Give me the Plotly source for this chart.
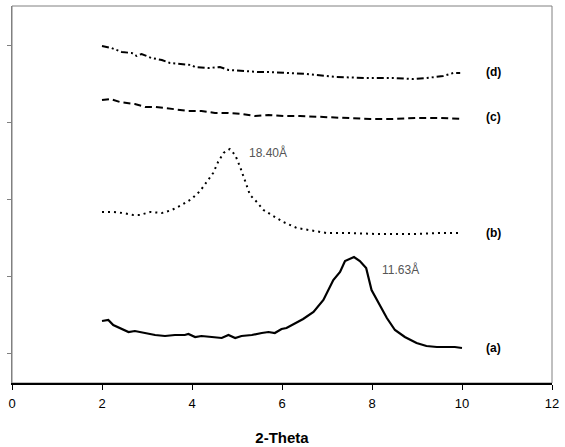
import plotly.graph_objects as go

# 2-Theta values and intensities (arbitrary units)
x_a = [2.0, 2.14, 2.25, 2.4, 2.59, 2.73, 2.96, 3.18, 3.4, 3.62, 3.84, 3.92, 4.07, 4.21, 4.44, 4.66, 4.81, 4.96,
       5.1, 5.33, 5.55, 5.7, 5.84, 5.99, 6.1, 6.29, 6.47, 6.7, 6.92, 7.14, 7.29, 7.4, 7.51, 7.6, 7.73, 7.87,
       7.99, 8.14, 8.33, 8.51, 8.73, 8.99, 9.21, 9.44, 9.66, 9.84, 10.0]
y_a = [32, 33, 28, 25, 21, 22, 20, 18, 17, 18, 18, 19, 16, 17, 16, 15, 18, 15,
       17, 18, 20, 21, 20, 24, 25, 30, 34, 41, 53, 73, 81, 92, 94, 96, 92, 85,
       63, 51, 35, 23, 16, 10, 7, 6, 6, 6, 5]

x_b = [2.0, 2.25, 2.47, 2.7, 2.84, 3.07, 3.33, 3.55, 3.77, 3.99, 4.18, 4.33, 4.47, 4.58, 4.7, 4.84, 4.96,
       5.07, 5.18, 5.29, 5.44, 5.59, 5.77, 6.03, 6.33, 6.7, 6.99, 7.51, 8.1, 8.62, 9.0, 9.5, 10.0]
y_b = [141, 141, 140, 138, 138, 141, 140, 143, 148, 154, 162, 171, 180, 191, 200, 204, 198,
       186, 171, 158, 151, 143, 138, 131, 125, 122, 120, 120, 119, 119, 119, 120, 120]

x_c = [2.0, 2.18, 2.4, 2.55, 2.73, 2.96, 3.18, 3.4, 3.62, 3.92, 4.21, 4.51, 4.81, 5.1, 5.4, 5.7, 6.03,
       6.4, 6.92, 7.44, 7.96, 8.47, 8.99, 9.51, 10.0]
y_c = [253, 254, 251, 250, 249, 246, 246, 245, 244, 242, 242, 240, 240, 239, 237, 238, 237,
       237, 236, 235, 234, 234, 235, 235, 234]

x_d = [2.0, 2.21, 2.44, 2.66, 2.77, 2.88, 3.1, 3.33, 3.51, 3.77, 3.99, 4.07, 4.36, 4.62, 4.81, 5.18, 5.47,
       5.7, 6.03, 6.55, 7.21, 7.88, 8.47, 8.92, 9.21, 9.58, 9.81, 9.96]
y_d = [307, 305, 301, 300, 297, 299, 295, 293, 290, 289, 288, 286, 285, 286, 283, 282, 281,
       281, 280, 279, 276, 275, 275, 274, 275, 277, 280, 280]

curve_labels = ["(a)", "(b)", "(c)", "(d)"]
label_x = 10.71
label_y = [5, 120, 236, 281]

peak_texts = ["18.40Å", "11.63Å"]
peak_x = [5.22, 8.18]
peak_y = [201, 84]

x_ticks = [0, 2, 4, 6, 8, 10, 12]
y_ticks = [0, 77, 154, 231, 308]

fig = go.Figure()
fig.add_trace(go.Scatter(x=x_a, y=y_a, mode="lines", line=dict(color="black", width=2.2)))
fig.add_trace(go.Scatter(x=x_b, y=y_b, mode="lines", line=dict(color="black", width=2, dash="2px,4px")))
fig.add_trace(go.Scatter(x=x_c, y=y_c, mode="lines", line=dict(color="black", width=2, dash="7px,4px")))
fig.add_trace(go.Scatter(x=x_d, y=y_d, mode="lines",
                         line=dict(color="black", width=2, dash="7px,3px,2px,3px,2px,3px")))

for t, yv in zip(curve_labels, label_y):
    fig.add_annotation(x=label_x, y=yv, text="<b>%s</b>" % t, showarrow=False,
                       font=dict(family="Liberation Sans, Arial", size=12, color="black"))
for t, xv, yv in zip(peak_texts, peak_x, peak_y):
    fig.add_annotation(x=xv, y=yv, text=t, showarrow=False, xanchor="left",
                       font=dict(family="Liberation Sans, Arial", size=12, color="#555555"))

fig.add_shape(type="rect", xref="paper", yref="paper", x0=0, y0=0, x1=1, y1=1,
              line=dict(color="#808080", width=1), layer="below")

fig.update_layout(
    width=565, height=447,
    margin=dict(l=12, r=13, t=6, b=64, autoexpand=False),
    paper_bgcolor="white", plot_bgcolor="white",
    showlegend=False,
    font=dict(family="Liberation Sans, Arial", size=12, color="black"),
    xaxis=dict(range=[0, 12], tickvals=x_ticks, ticks="outside", ticklen=5, tickcolor="black",
               showline=True, linecolor="black", linewidth=1.5, showgrid=False, zeroline=False,
               tickfont=dict(size=13), ticklabelstandoff=3, automargin=False,
               title=dict(text="<b>2-Theta</b>", font=dict(size=15), standoff=22)),
    yaxis=dict(range=[-30, 347], tickvals=y_ticks, ticks="outside", ticklen=4, tickcolor="#808080",
               showticklabels=False, showline=True, linecolor="#808080", linewidth=1,
               showgrid=False, zeroline=False, automargin=False),
)

fig.write_html("out.html", config={"displayModeBar": False},
               post_script="document.body.style.margin='0';document.body.style.overflow='hidden';")
